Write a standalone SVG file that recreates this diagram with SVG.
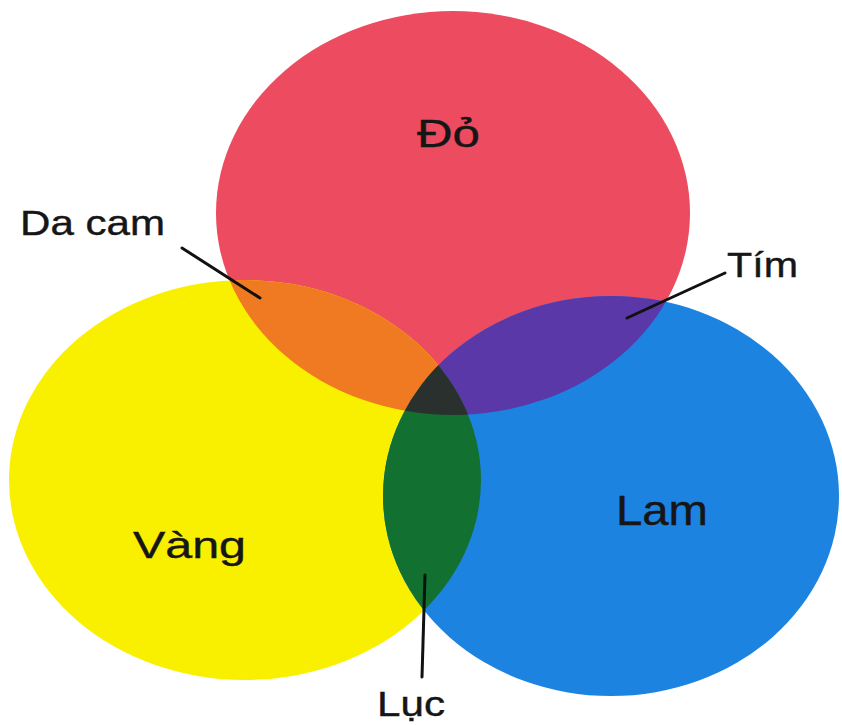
<svg xmlns="http://www.w3.org/2000/svg" width="842" height="725" viewBox="0 0 842 725">
<style>
.lbl{font-family:"Liberation Sans",Arial,sans-serif;fill:#161616;stroke:#161616;stroke-width:0.4}
.lead{stroke:#111;stroke-width:3;fill:none;stroke-linecap:round}
</style>
<defs>
<ellipse id="eRed" cx="453" cy="213" rx="237" ry="202"/>
<ellipse id="eYel" cx="245" cy="480" rx="236" ry="200"/>
<ellipse id="eBlu" cx="611" cy="496" rx="228" ry="200"/>
<clipPath id="cRed"><use href="#eRed"/></clipPath>
<clipPath id="cYel"><use href="#eYel"/></clipPath>
<clipPath id="cBlu"><use href="#eBlu"/></clipPath>
</defs>
<rect width="842" height="725" fill="#ffffff"/>
<g id="red"><use href="#eRed" fill="#ec4b60"/></g>
<g id="yellow"><use href="#eYel" fill="#f9f000"/></g>
<g id="blue"><use href="#eBlu" fill="#1c83e0"/></g>
<g id="orange" clip-path="url(#cRed)"><use href="#eYel" fill="#f07a22"/></g>
<g id="purple" clip-path="url(#cRed)"><use href="#eBlu" fill="#5a38a8"/></g>
<g id="green" clip-path="url(#cYel)"><use href="#eBlu" fill="#127030"/></g>
<g id="center" clip-path="url(#cRed)"><g clip-path="url(#cYel)"><use href="#eBlu" fill="#2a302d"/></g></g>
<g id="connectors">
<line class="lead" x1="182" y1="248" x2="260" y2="298"/>
<line class="lead" x1="725" y1="273" x2="627" y2="318"/>
<line class="lead" x1="425" y1="575" x2="422" y2="677"/>
</g>
<g id="labels">
<text class="lbl" x="417" y="147" font-size="39" textLength="63" lengthAdjust="spacingAndGlyphs">Đỏ</text>
<text class="lbl" x="20" y="235" font-size="35" textLength="145" lengthAdjust="spacingAndGlyphs">Da cam</text>
<text class="lbl" x="727" y="277" font-size="35" textLength="71" lengthAdjust="spacingAndGlyphs">Tím</text>
<text class="lbl" x="616" y="525" font-size="42" textLength="92" lengthAdjust="spacingAndGlyphs">Lam</text>
<text class="lbl" x="133" y="558" font-size="37" textLength="113" lengthAdjust="spacingAndGlyphs">Vàng</text>
<text class="lbl" x="377" y="716" font-size="35" textLength="68" lengthAdjust="spacingAndGlyphs">Lục</text>
</g>
</svg>
